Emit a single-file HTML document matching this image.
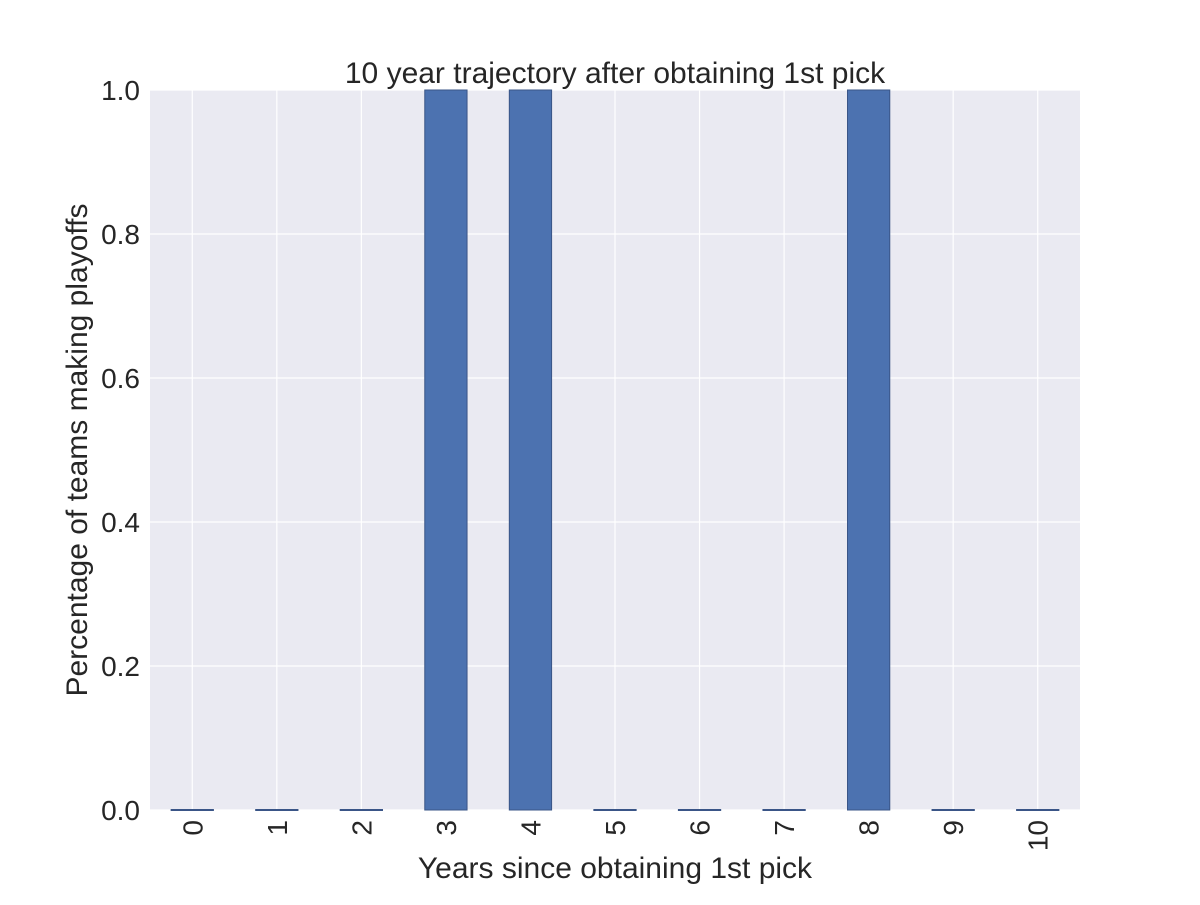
<!DOCTYPE html>
<html><head><meta charset="utf-8"><style>
body{margin:0;background:#fff;}
text{font-family:"Liberation Sans",Arial,sans-serif;fill:#262626;}
</style></head><body>
<svg width="1200" height="900" xmlns="http://www.w3.org/2000/svg">
<rect x="150" y="90" width="930" height="720" fill="#eaeaf2"/>
<g id="grid"></g><g id="bars"></g><g id="xt"></g><g id="yt"></g>
<text x="615" y="83" text-anchor="middle" font-size="30">10 year trajectory after obtaining 1st pick</text>
<text x="615" y="878" text-anchor="middle" font-size="30">Years since obtaining 1st pick</text>
<text transform="translate(87,450) rotate(-90)" text-anchor="middle" font-size="30">Percentage of teams making playoffs</text>
</svg>
<script>
const categories=["0","1","2","3","4","5","6","7","8","9","10"];
const values=[0,0,0,1,1,0,0,0,1,0,0];
const yTicks=[0,0.2,0.4,0.6,0.8,1.0];
const ns="http://www.w3.org/2000/svg";
const L=150,R=1080,T=90,B=810;
const bw=(R-L)/categories.length;
const xs=i=>L+bw*(i+0.5);
const ys=v=>B-(B-T)*v;
function mk(t,a,p){const e=document.createElementNS(ns,t);for(const k in a)e.setAttribute(k,a[k]);p.appendChild(e);return e;}
const g=document.getElementById('grid'),b=document.getElementById('bars'),xt=document.getElementById('xt'),yt=document.getElementById('yt');
yTicks.forEach(v=>{
 const l=mk('line',{x1:L,x2:R,y1:ys(v),y2:ys(v),stroke:'#fff','stroke-width':1.2},g);
 
 
 const t=mk('text',{x:140,y:ys(v)+10,'text-anchor':'end','font-size':28},yt);
 t.textContent=v.toFixed(1);
 
 
});
categories.forEach((c,i)=>{
 const l=mk('line',{x1:xs(i),x2:xs(i),y1:T,y2:B,stroke:'#fff','stroke-width':1.2},g);
 
 
 const h=B-ys(values[i]);
 const r=mk('rect',{x:xs(i)-bw/4,y:ys(values[i])-(h<1?0.5:0),width:bw/2,height:Math.max(1,h),fill:'#4c72b0',stroke:'#3a5587','stroke-width':1},b);
 
 
 const t=mk('text',{transform:`translate(${xs(i)+10},${B+10}) rotate(-90)`,'text-anchor':'end','font-size':28},xt);
 t.textContent=c;
 
 
});
</script>
</body></html>
